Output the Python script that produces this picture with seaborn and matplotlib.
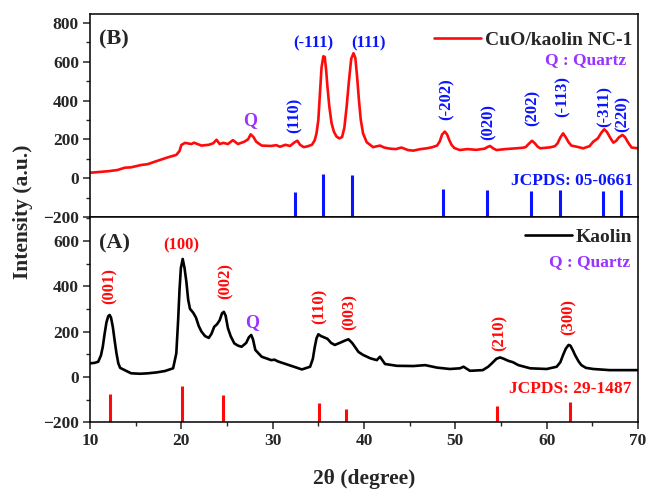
import matplotlib
matplotlib.use("Agg")
import matplotlib.pyplot as plt
from matplotlib.ticker import MultipleLocator
import seaborn as sns
import pandas as pd

# ---- CuO/kaolin NC-1 pattern (2theta in degrees, intensity in a.u.) ----
cuo_2theta = [10.0, 11.0, 12.0, 13.0, 13.8, 14.5, 15.6, 16.3, 17.1, 18.5, 19.45, 19.8,
              20.0, 20.4, 21.1, 21.4, 22.2, 23.0, 23.5, 23.85, 24.2, 24.6, 25.1, 25.65,
              26.2, 26.9, 27.3, 27.6, 27.9, 28.2, 28.8, 29.8, 30.4, 30.8, 31.4, 31.9,
              32.4, 32.7, 33.0, 33.4, 33.8, 34.3, 34.6, 34.8, 35.0, 35.2, 35.35, 35.55,
              35.7, 35.85, 36.0, 36.2, 36.45, 36.7, 37.0, 37.3, 37.6, 37.85, 38.1, 38.35,
              38.6, 38.85, 39.05, 39.25, 39.45, 39.65, 39.9, 40.3, 41.0, 41.75, 42.2, 42.85,
              43.5, 44.1, 44.8, 45.4, 46.2, 46.9, 47.5, 48.0, 48.3, 48.55, 48.85, 49.1,
              49.35, 49.6, 49.9, 50.5, 51.3, 52.3, 53.2, 53.5, 53.8, 54.1, 54.5, 55.5,
              56.7, 57.4, 57.7, 58.0, 58.4, 58.7, 59.0, 59.3, 60.4, 60.9, 61.2, 61.5,
              61.8, 62.1, 62.4, 62.7, 63.3, 64.0, 64.7, 65.1, 65.6, 66.0, 66.3, 66.6,
              67.0, 67.3, 67.6, 67.9, 68.3, 68.6, 68.9, 69.3, 70.0]
cuo_intensity = [28, 32, 36, 42, 54, 56, 68, 72, 85, 107, 120, 140,
                 171, 182, 176, 183, 168, 172, 180, 198, 176, 182, 176, 196,
                 176, 188, 200, 226, 212, 188, 168, 166, 170, 162, 172, 166,
                 185, 193, 172, 160, 164, 172, 195, 231, 300, 454, 570, 628,
                 625, 560, 470, 370, 283, 240, 214, 205, 212, 260, 369, 500,
                 615, 644, 620, 520, 400, 300, 230, 185, 160, 168, 158, 152,
                 150, 158, 145, 142, 150, 154, 160, 168, 190, 225, 240, 225,
                 195, 171, 155, 145, 150, 146, 152, 160, 166, 155, 145, 150,
                 154, 157, 160, 175, 193, 180, 163, 154, 159, 165, 180, 210,
                 231, 210, 185, 168, 162, 154, 165, 188, 205, 235, 252, 238,
                 205, 183, 192, 210, 223, 210, 185, 158, 154]

# ---- Kaolin pattern ----
kaolin_2theta = [10.0, 10.5, 10.9, 11.2, 11.4, 11.6, 11.8, 12.0, 12.15, 12.3, 12.5, 12.7,
                 12.9, 13.1, 13.3, 13.8, 14.5, 15.5, 16.35, 17.3, 18.2, 19.1, 19.45, 19.65,
                 19.8, 19.95, 20.15, 20.35, 20.55, 20.75, 20.95, 21.3, 21.6, 21.9, 22.2, 22.6,
                 23.0, 23.3, 23.6, 23.9, 24.2, 24.45, 24.65, 24.85, 25.1, 25.4, 25.8, 26.2,
                 26.6, 27.1, 27.4, 27.65, 27.85, 28.1, 28.8, 29.85, 30.2, 30.6, 31.2, 32.1,
                 33.2, 34.1, 34.4, 34.6, 34.8, 35.0, 35.3, 35.6, 36.0, 36.4, 36.8, 37.4,
                 37.9, 38.3, 38.7, 39.0, 39.4, 39.9, 40.7, 41.4, 41.75, 42.3, 43.6, 45.4,
                 46.7, 48.0, 49.4, 50.5, 50.9, 51.6, 53.0, 53.6, 54.0, 54.5, 54.9, 55.3,
                 55.8, 56.3, 56.9, 58.2, 60.0, 61.1, 61.5, 61.8, 62.1, 62.4, 62.6, 62.9,
                 63.1, 63.5, 63.8, 64.3, 65.1, 66.9, 70.0]
kaolin_intensity = [60, 62, 67, 95, 133, 190, 240, 268, 273, 262, 220, 160,
                    104, 60, 40, 30, 16, 14, 16, 20, 26, 38, 104, 250,
                    383, 480, 520, 480, 420, 340, 300, 283, 262, 225, 200, 180,
                    172, 190, 221, 232, 250, 280, 287, 270, 215, 180, 148, 138,
                    133, 150, 175, 185, 165, 119, 89, 74, 76, 68, 60, 48,
                    33, 45, 80, 130, 170, 188, 180, 175, 168, 150, 141, 151,
                    160, 166, 150, 133, 110, 97, 82, 74, 89, 57, 49, 48,
                    52, 41, 35, 38, 45, 27, 30, 45, 60, 80, 86, 80,
                    71, 65, 52, 38, 35, 45, 65, 97, 125, 141, 138, 115,
                    97, 68, 52, 40, 35, 30, 30]

# ---- Reference patterns (stick positions and heights) ----
cuo_ref_pos = [32.5, 35.5, 38.7, 48.7, 53.5, 58.3, 61.5, 66.2, 68.1]
cuo_ref_top = [-70, 22, 16, -56, -61, -64, -61, -64, -61]
cuo_hkl = ["(110)", "(-111)", "(111)", "(-202)", "(020)", "(202)", "(-113)", "(-311)", "(220)"]

kaolin_ref_pos = [12.15, 20.07, 24.6, 35.1, 38.0, 54.6, 62.6]
kaolin_ref_top = [-75, -40, -80, -116, -143, -127, -112]
kaolin_hkl = ["(001)", "(100)", "(002)", "(110)", "(003)", "(210)", "(300)"]

ref_base = -200

# label anchors (2theta, intensity, rotation) for the Miller indices
cuo_lbl = [(32.45, 326, 90), (34.5, 697, 0), (40.45, 697, 0), (49.05, 408, 90),
           (53.7, 291, 90), (58.5, 362, 90), (61.7, 420, 90), (66.3, 368, 90),
           (68.3, 331, 90)]
kaolin_lbl = [(12.2, 400, 90), (19.96, 581, 0), (24.9, 424, 90), (35.1, 309, 90),
              (38.4, 286, 90), (54.8, 193, 90), (62.45, 264, 90)]

RED = "#ff0a0a"
BLUE = "#0a14ff"
PURPLE = "#9933ff"

sns.set_style("ticks")
plt.rcParams["font.family"] = ["Liberation Serif", "DejaVu Serif"]
plt.rcParams["font.weight"] = "bold"
plt.rcParams["axes.linewidth"] = 1.1
plt.rcParams["axes.unicode_minus"] = True

df_cuo = pd.DataFrame({"2theta": cuo_2theta, "Intensity": cuo_intensity})
df_kao = pd.DataFrame({"2theta": kaolin_2theta, "Intensity": kaolin_intensity})

fig = plt.figure(figsize=(6.49, 4.90), dpi=100)
ax_b = fig.add_axes([0.13867, 0.55714, 0.84438, 0.41429])
ax_a = fig.add_axes([0.13867, 0.13816, 0.84438, 0.41898], sharex=ax_b)

sns.lineplot(data=df_cuo, x="2theta", y="Intensity", ax=ax_b, color=RED, lw=1.9,
             label="CuO/kaolin NC-1", estimator=None)
sns.lineplot(data=df_kao, x="2theta", y="Intensity", ax=ax_a, color="black", lw=1.9,
             label="Kaolin", estimator=None)

ax_b.vlines(cuo_ref_pos, ref_base, cuo_ref_top, color=BLUE, lw=2.2)
ax_a.vlines(kaolin_ref_pos, ref_base, kaolin_ref_top, color=RED, lw=2.2)

ax_b.set_xlim(10, 70)
ax_b.set_ylim(-200, 846)
ax_a.set_ylim(-200, 705)

for ax in (ax_a, ax_b):
    ax.set_xlabel("")
    ax.set_ylabel("")
    ax.yaxis.set_major_locator(MultipleLocator(200))
    ax.yaxis.set_minor_locator(MultipleLocator(100))
    ax.xaxis.set_major_locator(MultipleLocator(10))
    ax.xaxis.set_minor_locator(MultipleLocator(5))
    ax.tick_params(axis="both", which="major", direction="out", length=5, width=1.1,
                   labelsize=12.5, pad=3)
    ax.tick_params(axis="both", which="minor", direction="out", length=3, width=1.0)
    for lab in ax.get_yticklabels() + ax.get_xticklabels():
        lab.set_fontweight("bold")
    for sp in ax.spines.values():
        sp.set_visible(True)
        sp.set_color("black")

ax_b.tick_params(axis="x", which="both", bottom=False, labelbottom=False)

# legends
leg_b = ax_b.legend(loc="center right", bbox_to_anchor=(0.989, 0.872), frameon=False,
                    fontsize=14, handlelength=2.4, handletextpad=0.2,
                    borderpad=0, borderaxespad=0)
leg_a = ax_a.legend(loc="center right", bbox_to_anchor=(0.989, 0.904), frameon=False,
                    fontsize=14, handlelength=2.4, handletextpad=0.2,
                    borderpad=0, borderaxespad=0)
for leg in (leg_a, leg_b):
    for t in leg.get_texts():
        t.set_fontweight("bold")

ax_b.text(0.978, 0.773, "Q : Quartz", transform=ax_b.transAxes, ha="right", va="center",
          color=PURPLE, fontsize=12.5, fontweight="bold")
ax_a.text(0.985, 0.781, "Q : Quartz", transform=ax_a.transAxes, ha="right", va="center",
          color=PURPLE, fontsize=12.5, fontweight="bold")

# panel tags
ax_b.text(11.0, 715, "(B)", ha="left", va="center", fontsize=16, fontweight="bold")
ax_a.text(11.0, 590, "(A)", ha="left", va="center", fontsize=16, fontweight="bold")

# Miller indices
for (x, y, rot), s in zip(cuo_lbl, cuo_hkl):
    ax_b.text(x, y, s, rotation=rot, ha="center", va="center", color=BLUE,
              fontsize=12, fontweight="bold")
for (x, y, rot), s in zip(kaolin_lbl, kaolin_hkl):
    ax_a.text(x, y, s, rotation=rot, ha="center", va="center", color=RED,
              fontsize=12, fontweight="bold")

# quartz markers
ax_b.text(27.5, 295, "Q", ha="center", va="center", color=PURPLE, fontsize=13, fontweight="bold")
ax_a.text(27.75, 240, "Q", ha="center", va="center", color=PURPLE, fontsize=13, fontweight="bold")

# reference card labels
ax_b.text(69.45, -14, "JCPDS: 05-0661", ha="right", va="center", color=BLUE,
          fontsize=12.5, fontweight="bold")
ax_a.text(69.3, -53, "JCPDS: 29-1487", ha="right", va="center", color=RED,
          fontsize=12.5, fontweight="bold")

fig.text(364 / 649, 1 - 479 / 490, "2θ (degree)", ha="center", va="center",
         fontsize=15.5, fontweight="bold")
fig.text(23 / 649, 1 - 212 / 490, "Intensity (a.u.)", ha="center", va="center",
         rotation=90, fontsize=15.5, fontweight="bold")

fig.savefig("out.png", dpi=100)
